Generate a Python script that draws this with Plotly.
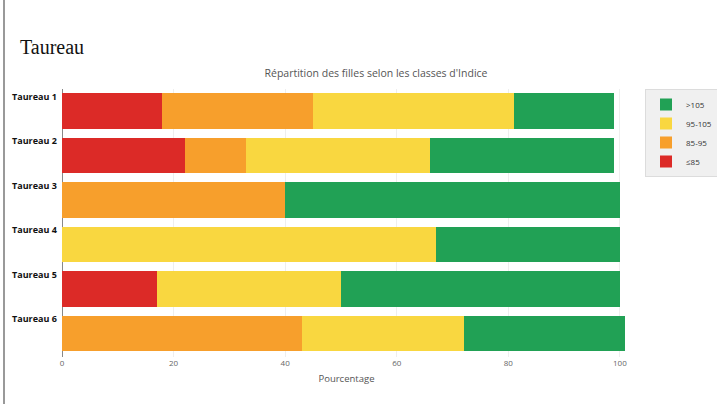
import plotly.graph_objects as go

categories = ["Taureau 1", "Taureau 2", "Taureau 3", "Taureau 4", "Taureau 5", "Taureau 6"]
classes = ["≤85", "85-95", "95-105", ">105"]
colors = ["#dc2a27", "#f79f2c", "#f9d740", "#21a155"]
values = {
    "≤85":    [18, 22, 0, 0, 17, 0],
    "85-95":  [27, 11, 40, 0, 0, 43],
    "95-105": [36, 33, 0, 67, 33, 29],
    ">105":   [18, 33, 60, 33, 50, 29],
}
x_ticks = [0, 20, 40, 60, 80, 100]

W, H = 717, 404
L, R, T, B = 62, 86, 89, 47
pw = W - L - R
ph = H - T - B

fig = go.Figure()
for cls, col in zip(classes, colors):
    fig.add_trace(go.Bar(
        y=categories, x=values[cls], name=cls, orientation="h",
        marker=dict(color=col, line=dict(width=0)),
    ))

annotations = [
    dict(text="Taureau", xref="paper", yref="paper",
         x=(18 - L) / pw, y=1 + (T - 47) / ph, xanchor="left", yanchor="middle",
         showarrow=False, font=dict(family="Liberation Serif", size=20, color="#111")),
]
for c in categories:
    annotations.append(dict(
        text="<b>" + c + "</b>", xref="paper", yref="y", x=(10 - L) / pw, y=c,
        xanchor="left", yanchor="middle", yshift=15, showarrow=False,
        font=dict(family="Open Sans", size=9, color="#111")))

fig.update_layout(
    width=W, height=H,
    margin=dict(l=L, r=R, t=T, b=B, autoexpand=False),
    barmode="stack", bargap=0.2,
    paper_bgcolor="white", plot_bgcolor="white",
    font=dict(family="Open Sans", color="#555"),
    title=dict(text="Répartition des filles selon les classes d'Indice",
               x=376 / W, xanchor="center", y=1 - 73 / H, yanchor="middle",
               font=dict(size=10.5, color="#555")),
    xaxis=dict(range=[0, 102], tickvals=x_ticks, showgrid=True, gridcolor="#eeeeee",
               zeroline=True, zerolinecolor="#888", zerolinewidth=1,
               tickfont=dict(size=8, color="#666"), ticks="",
               title=dict(text="Pourcentage", font=dict(size=9.5, color="#555"), standoff=8)),
    yaxis=dict(categoryorder="array", categoryarray=categories, autorange="reversed",
               showticklabels=False, showgrid=False, zeroline=False),
    legend=dict(traceorder="reversed", x=(645 - L) / pw, xanchor="left", y=1 - (89 - T) / ph,
                yanchor="top", bgcolor="#f0f0f0", bordercolor="#dcdcdc", borderwidth=1,
                font=dict(size=8, color="#333"), itemwidth=30, tracegroupgap=0),
    annotations=annotations,
    shapes=[dict(type="line", xref="paper", yref="paper",
                 x0=(4 - L) / pw, x1=(4 - L) / pw, y0=-B / ph - 0.05, y1=1 + T / ph + 0.05,
                 line=dict(color="#777", width=1.5))],
)

fig.write_html("out.html", config={"displayModeBar": False},
               post_script="document.body.style.margin='0';")
